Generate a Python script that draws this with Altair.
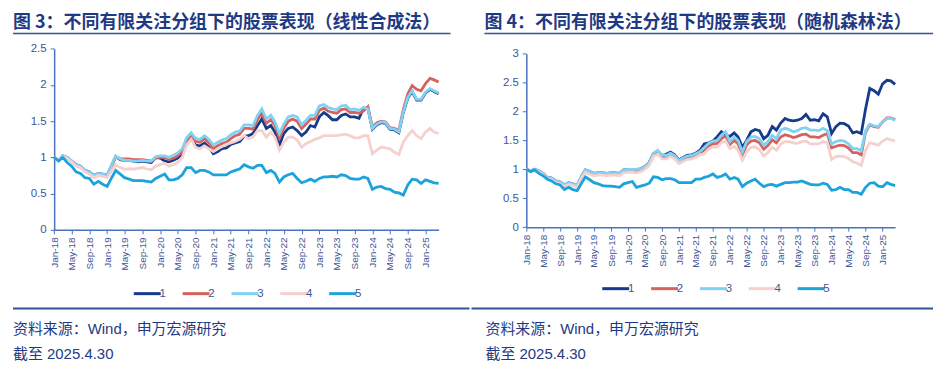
import altair as alt
import pandas as pd

months = pd.date_range("2018-01-01", "2025-04-01", freq="MS")
series_names = ["1", "2", "3", "4", "5"]
series_colors = ["#163A8C", "#D6625C", "#7FD2F3", "#F6CFCF", "#1BA3DD"]

# ---------- 图3 线性合成法 ----------
L1 = [1.00,0.96,1.02,1.00,0.95,0.90,0.88,0.82,0.80,0.75,0.78,0.77,0.75,
      0.89,1.01,0.97,0.96,0.96,0.95,0.94,0.95,0.94,0.93,1.00,0.99,
      0.95,0.94,0.96,0.99,1.05,1.22,1.26,1.17,1.16,1.20,1.14,1.05,
      1.08,1.12,1.13,1.18,1.20,1.22,1.29,1.30,
      1.33,1.44,1.53,1.40,1.44,1.35,1.17,1.33,1.40,1.42,1.37,1.30,1.35,1.44,1.42,1.56,1.62,1.58,1.52,1.52,1.58,1.60,1.56,1.56,1.54,1.68,1.68,
      1.39,1.45,1.48,1.47,1.39,1.38,1.34,1.62,1.82,1.91,1.79,1.79,1.89,1.94,1.91,1.88]
L2 = [1.00,0.96,1.02,0.99,0.95,0.89,0.87,0.81,0.79,0.74,0.77,0.76,0.74,
      0.89,1.01,0.98,0.98,0.98,0.97,0.97,0.97,0.96,0.95,0.99,1.00,
      1.00,0.97,0.99,1.02,1.08,1.22,1.30,1.22,1.21,1.26,1.20,1.12,
      1.16,1.19,1.21,1.26,1.30,1.32,1.40,1.40,
      1.39,1.52,1.61,1.47,1.52,1.44,1.27,1.40,1.50,1.53,1.50,1.40,1.46,1.53,1.53,1.65,1.68,1.64,1.62,1.61,1.66,1.67,1.62,1.62,1.61,1.64,1.70,
      1.42,1.48,1.50,1.49,1.41,1.40,1.37,1.66,1.88,1.99,1.94,1.92,2.02,2.09,2.07,2.04]
L3 = [1.00,0.96,1.02,1.00,0.95,0.90,0.88,0.82,0.80,0.75,0.78,0.77,0.75,
      0.90,1.02,0.98,0.96,0.96,0.95,0.95,0.96,0.95,0.95,1.01,1.02,
      1.02,1.00,1.03,1.06,1.12,1.27,1.34,1.26,1.25,1.30,1.25,1.17,
      1.21,1.24,1.26,1.31,1.35,1.36,1.45,1.45,
      1.44,1.58,1.67,1.53,1.58,1.49,1.33,1.46,1.56,1.58,1.56,1.45,1.51,1.58,1.58,1.71,1.73,1.69,1.67,1.66,1.71,1.72,1.66,1.67,1.65,1.69,1.67,
      1.40,1.46,1.49,1.48,1.40,1.39,1.35,1.63,1.83,1.92,1.80,1.80,1.90,1.95,1.92,1.89]
L4 = [1.00,0.96,1.01,0.99,0.94,0.88,0.86,0.80,0.77,0.72,0.75,0.74,0.72,
      0.82,0.90,0.86,0.84,0.84,0.84,0.85,0.86,0.84,0.83,0.88,0.90,
      0.92,0.88,0.90,0.93,1.00,1.17,1.25,1.14,1.12,1.16,1.12,1.08,
      1.12,1.15,1.18,1.20,1.22,1.25,1.30,1.26,
      1.28,1.37,1.37,1.28,1.35,1.28,1.10,1.21,1.28,1.28,1.24,1.14,1.19,1.22,1.25,1.27,1.30,1.30,1.30,1.30,1.31,1.32,1.30,1.27,1.27,1.30,1.30,
      1.05,1.10,1.14,1.13,1.12,1.07,1.04,1.21,1.30,1.37,1.30,1.26,1.35,1.40,1.35,1.33]
L5 = [1.00,0.95,1.00,0.93,0.88,0.80,0.78,0.72,0.71,0.63,0.67,0.63,0.60,
      0.72,0.82,0.77,0.72,0.70,0.68,0.68,0.68,0.67,0.66,0.71,0.74,
      0.77,0.69,0.69,0.71,0.76,0.86,0.86,0.79,0.82,0.82,0.80,0.76,
      0.76,0.76,0.76,0.80,0.82,0.84,0.90,0.87,
      0.85,0.89,0.89,0.79,0.82,0.78,0.66,0.73,0.76,0.78,0.71,0.65,0.67,0.70,0.67,0.71,0.73,0.73,0.74,0.73,0.76,0.75,0.71,0.70,0.70,0.73,0.71,
      0.56,0.59,0.60,0.57,0.56,0.52,0.51,0.48,0.62,0.70,0.69,0.64,0.69,0.67,0.65,0.64]

# ---------- 图4 随机森林法 ----------
R1 = [1.00,0.97,1.00,0.97,0.93,0.86,0.85,0.80,0.78,0.73,0.77,0.75,0.72,
      0.88,0.99,0.96,0.93,0.94,0.94,0.93,0.94,0.94,0.93,0.99,1.00,
      1.00,1.00,1.01,1.05,1.12,
      1.27,1.31,1.24,1.26,1.30,1.25,1.16,1.21,1.24,1.25,1.28,1.33,
      1.44,1.46,1.49,1.56,1.65,1.59,1.57,1.63,1.56,1.38,1.50,1.65,1.69,1.67,1.53,1.59,1.74,1.68,
      1.80,1.88,1.85,1.84,1.85,1.88,1.95,1.85,1.86,1.84,1.96,1.91,
      1.62,1.74,1.80,1.79,1.75,1.63,1.65,1.62,2.05,2.40,2.36,2.30,2.48,2.54,2.53,2.47]
R2 = [1.00,0.97,0.99,0.96,0.92,0.85,0.84,0.79,0.77,0.72,0.76,0.74,0.71,
      0.86,0.97,0.94,0.91,0.92,0.92,0.91,0.92,0.92,0.91,0.97,0.98,0.98,0.97,0.98,1.02,1.09,
      1.25,1.30,1.22,1.21,1.25,1.21,1.12,1.17,1.20,1.21,1.24,1.28,1.33,1.40,
      1.44,1.45,1.53,1.58,1.43,1.50,1.44,1.24,1.42,1.49,1.50,1.46,1.35,1.41,1.51,1.46,
      1.56,1.60,1.58,1.55,1.57,1.60,1.61,1.56,1.56,1.55,1.59,1.62,
      1.37,1.40,1.42,1.41,1.37,1.29,1.29,1.25,
      1.64,1.77,1.74,1.73,1.82,1.89,1.89,1.86]
R3 = [1.00,0.97,1.00,0.97,0.93,0.86,0.85,0.80,0.78,0.73,0.77,0.75,0.72,
      0.88,0.99,0.96,0.93,0.94,0.94,0.93,0.94,0.94,0.93,0.99,1.00,
      1.00,1.00,1.01,1.05,1.12,1.28,1.33,1.25,1.24,1.28,1.24,1.15,
      1.20,1.23,1.24,1.27,1.31,1.38,1.45,
      1.49,1.50,1.59,1.65,1.48,1.56,1.50,1.30,1.48,1.56,1.57,1.53,1.42,1.48,1.59,1.53,
      1.68,1.71,1.69,1.65,1.67,1.71,1.72,1.68,1.68,1.67,1.71,1.67,
      1.44,1.48,1.50,1.49,1.44,1.36,1.36,1.32,1.67,1.78,1.75,1.74,1.82,1.88,1.88,1.85]
R4 = [1.00,0.96,0.99,0.95,0.91,0.84,0.82,0.77,0.75,0.70,0.74,0.72,0.69,
      0.85,0.95,0.91,0.89,0.90,0.90,0.89,0.90,0.90,0.89,0.94,0.95,0.95,0.94,0.96,1.00,1.07,
      1.22,1.26,1.18,1.18,1.22,1.18,1.10,1.14,1.17,1.18,1.21,1.25,1.27,1.35,
      1.39,1.38,1.46,1.49,1.36,1.40,1.33,1.16,1.30,1.38,1.39,1.34,1.23,1.29,1.38,1.33,
      1.44,1.48,1.48,1.46,1.45,1.48,1.49,1.44,1.44,1.44,1.48,1.46,
      1.17,1.22,1.23,1.22,1.19,1.13,1.11,1.07,1.33,1.46,1.44,1.42,1.49,1.53,1.51,1.49]
R5 = [1.00,0.96,0.99,0.93,0.89,0.83,0.80,0.75,0.73,0.65,0.69,0.65,0.63,
      0.76,0.87,0.82,0.77,0.75,0.72,0.71,0.71,0.70,0.69,0.75,0.77,
      0.79,0.69,0.71,0.73,0.76,0.87,0.86,0.82,0.84,0.84,0.82,0.77,
      0.77,0.77,0.77,0.83,0.83,
      0.86,0.88,0.92,0.86,0.88,0.92,0.83,0.86,0.83,0.70,0.76,0.80,0.83,0.76,0.70,0.73,0.74,0.71,
      0.74,0.77,0.77,0.78,0.78,0.80,0.77,0.74,0.73,0.73,0.76,0.74,
      0.64,0.65,0.69,0.65,0.65,0.60,0.60,0.57,0.69,0.76,0.77,0.71,0.70,0.77,0.74,0.72]

title_left = "图 3：不同有限关注分组下的股票表现（线性合成法）"
title_right = "图 4：不同有限关注分组下的股票表现（随机森林法）"
source_text = "资料来源：Wind，申万宏源研究"
date_text = "截至 2025.4.30"
y_ticks_left = [0, 0.5, 1, 1.5, 2, 2.5]
y_ticks_right = [0, 0.5, 1, 1.5, 2, 2.5, 3]

DARK = "#1F3A84"
AXIS = "#4A72C0"
LABEL = "#3D5696"
CJK = "Noto Sans CJK SC"
MIXED = "Liberation Sans, Noto Sans CJK SC"
LAT = "Liberation Sans"
W, H = 463, 356


def long_df(lists):
    frames = [pd.DataFrame({"date": months, "value": v, "series": n})
              for n, v in zip(series_names, lists)]
    return pd.concat(frames, ignore_index=True)


def dt(ts):
    return alt.DateTime(year=int(ts.year), month=int(ts.month), date=1)


tick_dates = [dt(t) for t in months[::4]]


def text_layer(txt, x, y, size, weight="normal", color=DARK, font=MIXED):
    return alt.Chart(pd.DataFrame({"t": [txt]})).mark_text(
        align="left", baseline="middle", fontSize=size, fontWeight=weight,
        font=font, color=color
    ).encode(x=alt.value(x), y=alt.value(y), text="t:N")


def hrule(x1, x2, y, width, color):
    return alt.Chart(pd.DataFrame({"a": [0]})).mark_rule(
        color=color, strokeWidth=width
    ).encode(x=alt.value(x1), x2=alt.value(x2), y=alt.value(y))


def panel(lists, title, ymax, yvals, xr, yr, legx, legy, tx, ux, bx, sx):
    df = long_df(lists)
    lines = alt.Chart(df).mark_line(strokeWidth=2.8, interpolate="linear").encode(
        x=alt.X("date:T",
                scale=alt.Scale(domain=[dt(months[0]), dt(months[-1])], range=xr),
                axis=alt.Axis(orient="bottom", offset=-(H - yr[0]), values=tick_dates,
                              format="%b-%y", labelAngle=270, labelFontSize=10,
                              labelFont=LAT, labelColor=LABEL, labelOverlap=False,
                              labelPadding=3, domainColor=AXIS, domainWidth=1.5,
                              tickColor=AXIS, tickSize=4, grid=False, title=None)),
        y=alt.Y("value:Q",
                scale=alt.Scale(domain=[0, ymax], range=yr, nice=False, zero=True),
                axis=alt.Axis(orient="left", offset=-xr[0], values=yvals,
                              labelExpr="'' + datum.value", labelFontSize=11.5,
                              labelFont=LAT, labelColor=LABEL, labelPadding=4,
                              domainColor=AXIS, domainWidth=1.5, tickColor=AXIS,
                              tickSize=4, grid=False, title=None)),
        color=alt.Color("series:N",
                        scale=alt.Scale(domain=series_names, range=series_colors),
                        legend=alt.Legend(orient="none", legendX=legx, legendY=legy,
                                          direction="horizontal", title=None,
                                          symbolType="M-0.8,0H1.2", symbolSize=729,
                                          symbolStrokeWidth=3, symbolFillColor="transparent",
                                          labelFontSize=11.5,
                                          labelFont=LAT, labelColor=LABEL,
                                          labelOffset=0, columnPadding=9,
                                          gridAlign="none")),
    )
    return alt.layer(
        lines,
        text_layer(title, tx, 14, 18, "bold", font=CJK),
        hrule(ux[0], ux[1], 25, 1.6, "#2F5597"),
        hrule(bx[0], bx[1], 301, 2, "#2F5597"),
        text_layer(source_text, sx, 321, 15),
        text_layer(date_text, sx, 347, 15),
    ).properties(width=W, height=H)


left = panel([L1, L2, L3, L4, L5], title_left, 2.5, y_ticks_left,
             [46.3, 432.0], [222.0, 40.3], 122, 271, 5, (5, 444), (5, 463), 5)
right = panel([R1, R2, R3, R4, R5], title_right, 3, y_ticks_right,
              [55.0, 425.0], [219.3, 45.3], 127, 266, 13, (13, 463), (0, 463), 14)

chart = alt.hconcat(left, right, spacing=0).resolve_scale(
    color="independent", x="independent", y="independent"
).resolve_legend(color="independent").configure_view(strokeWidth=0).properties(padding=0)

chart.save("out.html", embed_options={"renderer": "svg", "actions": False})
